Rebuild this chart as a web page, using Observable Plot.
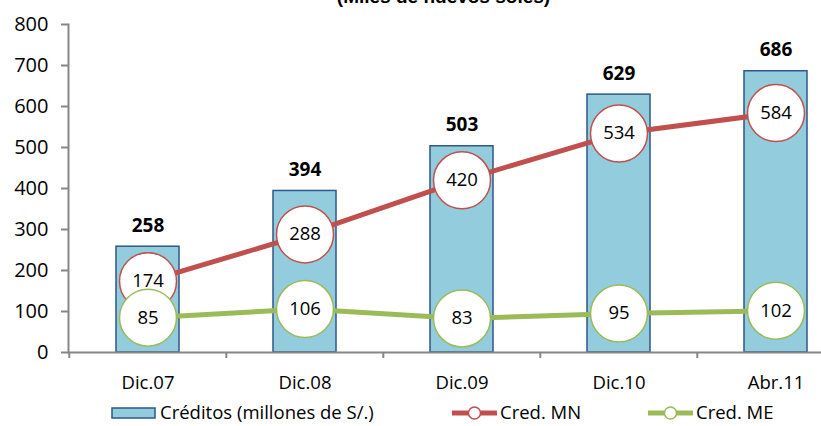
<!DOCTYPE html>
<html>
<head>
<meta charset="utf-8">
<script src="https://cdn.jsdelivr.net/npm/d3@7"></script>
<script src="https://cdn.jsdelivr.net/npm/@observablehq/plot@0.6"></script>
<style>
  html, body { margin: 0; padding: 0; background: #fff; }
  #wrap { position: relative; width: 821px; height: 426px; overflow: hidden; font-family: "Open Sans", sans-serif; }
  #title { position: absolute; left: 0; width: 887px; top: -14px; text-align: center; font: bold 19px "Liberation Sans", Arial, sans-serif; color: #000; white-space: nowrap; }
  #legend { position: absolute; left: 0; top: 396px; }
  g[aria-label="y-axis tick label"], g[aria-label="x-axis tick label"] { stroke: none; }
</style>
</head>
<body>
<div id="wrap">
  <div id="chart"></div>
  <div id="title">(Miles de nuevos soles)</div>
  <svg id="legend" width="821" height="30"></svg>
</div>
<script>
const categories = ["Dic.07", "Dic.08", "Dic.09", "Dic.10", "Abr.11"];
const creditos = [258, 394, 503, 629, 686];
const credMN = [174, 288, 420, 534, 584];
const credME = [85, 106, 83, 95, 102];
const yTicks = [0, 100, 200, 300, 400, 500, 600, 700, 800];
const seriesNames = ["Créditos (millones de S/.)", "Cred. MN", "Cred. ME"];

const barFill = "#93CDDD", barStroke = "#2F5788";
const red = "#C0504D", green = "#9BBB59", axisGray = "#868686";

const rows = categories.map((c, i) => ({cat: c, total: creditos[i], mn: credMN[i], me: credME[i]}));

const xRange = [68, 855];
const step = (xRange[1] - xRange[0]) / categories.length;
const font = "Open Sans, sans-serif";

const chart = Plot.plot({
  width: 821,
  height: 426,
  marginLeft: 68,
  marginRight: 0,
  marginTop: 24,
  marginBottom: 74,
  style: {fontFamily: font, background: "white"},
  x: {type: "band", domain: categories, range: xRange, paddingInner: 0.6, paddingOuter: 0.3, label: null},
  y: {domain: [0, 800], label: null},
  marks: [
    Plot.barY(rows, {x: "cat", y: "total", fill: barFill, stroke: barStroke, strokeWidth: 1.5}),
    Plot.ruleY([0], {stroke: axisGray, strokeWidth: 2}),
    Plot.frame({anchor: "left", stroke: axisGray, strokeWidth: 2}),
    Plot.ruleX(categories, {x: d => d, dx: -step / 2, y1: 0, y2: 0, insetBottom: -6, stroke: axisGray, strokeWidth: 2}),
    Plot.axisY(yTicks, {tickSize: 7, tickPadding: 13, stroke: axisGray, strokeWidth: 2, fill: "black", fontSize: 20, label: null}),
    Plot.axisX({tickSize: 0, tickPadding: 23, fill: "black", fontSize: 18.5, label: null}),
    Plot.text(rows, {x: "cat", y: "total", text: d => String(d.total), dy: -15, lineAnchor: "bottom", fontWeight: "bold", fontSize: 19, fill: "black"}),
    Plot.line(rows, {x: "cat", y: "mn", stroke: red, strokeWidth: 5}),
    Plot.dot(rows, {x: "cat", y: "mn", r: 28.5, fill: "white", stroke: red, strokeWidth: 1.5}),
    Plot.text(rows, {x: "cat", y: "mn", text: d => String(d.mn), fontSize: 18.5, fill: "black"}),
    Plot.line(rows, {x: "cat", y: "me", stroke: green, strokeWidth: 5}),
    Plot.dot(rows, {x: "cat", y: "me", r: 28.5, fill: "white", stroke: green, strokeWidth: 1.5}),
    Plot.text(rows, {x: "cat", y: "me", text: d => String(d.me), fontSize: 18.5, fill: "black"})
  ]
});
document.getElementById("chart").appendChild(chart);

// Legend
const lg = d3.select("#legend");
const ly = 17;
lg.append("rect").attr("x", 112).attr("y", ly - 5).attr("width", 43).attr("height", 10)
  .attr("fill", barFill).attr("stroke", barStroke).attr("stroke-width", 1.5);
lg.append("text").attr("x", 160).attr("y", ly).attr("dy", "0.35em")
  .attr("font-family", font).attr("font-size", 18.5).text(seriesNames[0]);
[[452, red, seriesNames[1]], [648, green, seriesNames[2]]].forEach(([x0, col, name]) => {
  lg.append("line").attr("x1", x0).attr("x2", x0 + 45).attr("y1", ly).attr("y2", ly)
    .attr("stroke", col).attr("stroke-width", 5);
  lg.append("circle").attr("cx", x0 + 22.5).attr("cy", ly).attr("r", 6)
    .attr("fill", "white").attr("stroke", col).attr("stroke-width", 1.5);
  lg.append("text").attr("x", x0 + 48).attr("y", ly).attr("dy", "0.35em")
    .attr("font-family", font).attr("font-size", 18.5).text(name);
});
</script>
</body>
</html>
